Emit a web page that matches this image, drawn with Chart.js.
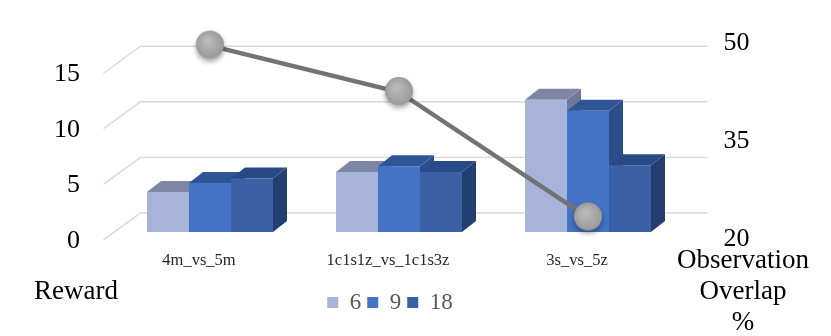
<!DOCTYPE html>
<html><head><meta charset="utf-8">
<script src="https://cdn.jsdelivr.net/npm/chart.js@4.4.0/dist/chart.umd.min.js"></script>
<style>
html,body{margin:0;padding:0;background:#fff;}
#wrap{position:relative;width:831px;height:336px;overflow:hidden;background:#fff;}
#c{position:absolute;left:0;top:0;}
.t{position:absolute;font-family:'Liberation Serif',serif;font-size:27px;line-height:31px;color:#000;text-align:center;white-space:nowrap;}
</style></head><body>
<div id="wrap"><canvas id="c" width="831" height="336"></canvas>
<div class="t" style="left:0;width:152px;top:275px">Reward</div>
<div class="t" style="left:663px;width:160px;top:244px">Observation<br>Overlap<br>%</div>
</div>
<script>
// ---- data ----
const categories = ['4m_vs_5m', '1c1s1z_vs_1c1s3z', '3s_vs_5z'];
const seriesNames = ['6', '9', '18'];
const reward6 = [3.6, 5.4, 11.9];
const reward9 = [4.4, 5.9, 10.9];
const reward18 = [4.8, 5.4, 6.0];
const overlap = [49.6, 42.5, 23.3];
const rewardTicks = [0, 5, 10, 15];
const overlapTicks = [20, 35, 50];

// ---- styles ----
const frontColors = ['#a7b4d9', '#4472c4', '#3a60a6'];
const topColors = ['#7d87a5', '#2f5597', '#294a87'];
const sideColors = ['#6f7a99', '#2c4f8c', '#233f72'];
const DEPTH_X = 14, DEPTH_Y = -11;
const WALL_X = 25, WALL_Y = -19;
const FLOOR_X = -37, FLOOR_Y = 27;
const FONT = "'Liberation Serif', serif";

function poly(ctx, pts) {
  ctx.beginPath();
  ctx.moveTo(pts[0][0], pts[0][1]);
  for (let i = 1; i < pts.length; i++) ctx.lineTo(pts[i][0], pts[i][1]);
  ctx.closePath();
  ctx.fill();
}

const threeD = {
  id: 'threeD',
  beforeDatasetsDraw(chart) {
    const {ctx, chartArea: a, scales} = chart;
    const y = scales.y;
    ctx.save();
    ctx.strokeStyle = '#d9d9d9';
    ctx.lineWidth = 1.4;
    rewardTicks.forEach(v => {
      const yb = y.getPixelForValue(v) + WALL_Y;
      const xl = a.left + WALL_X, xr = a.right + WALL_X;
      ctx.beginPath();
      ctx.moveTo(xl + FLOOR_X, yb + FLOOR_Y);
      ctx.lineTo(xl, yb);
      ctx.lineTo(xr, yb);
      ctx.stroke();
    });
    for (let i = 0; i < categories.length; i++) {
      for (let d = 0; d < 3; d++) {
        const el = chart.getDatasetMeta(d).data[i];
        if (!el) continue;
        const p = el.getProps(['x', 'y', 'base', 'width'], true);
        const l = p.x - p.width / 2, r = p.x + p.width / 2, t = p.y, b = p.base;
        ctx.fillStyle = sideColors[d];
        poly(ctx, [[r, t], [r + DEPTH_X, t + DEPTH_Y], [r + DEPTH_X, b + DEPTH_Y], [r, b]]);
        ctx.fillStyle = topColors[d];
        poly(ctx, [[l, t], [r, t], [r + DEPTH_X, t + DEPTH_Y], [l + DEPTH_X, t + DEPTH_Y]]);
      }
    }
    ctx.restore();
  }
};

function makeMarker() {
  const c = document.createElement('canvas');
  c.width = 40; c.height = 40;
  const g = c.getContext('2d');
  g.shadowColor = 'rgba(0,0,0,0.35)';
  g.shadowBlur = 5;
  g.shadowOffsetY = 3;
  const grad = g.createRadialGradient(17, 15, 2, 20, 19, 15);
  grad.addColorStop(0, '#b9b9b9');
  grad.addColorStop(1, '#989898');
  g.fillStyle = grad;
  g.beginPath();
  g.arc(20, 19, 14, 0, Math.PI * 2);
  g.fill();
  return c;
}
const marker = makeMarker();

const rewardSeries = [reward6, reward9, reward18];
const datasets = rewardSeries.map((vals, k) => ({
  type: 'bar',
  label: seriesNames[k],
  data: vals,
  yAxisID: 'y',
  backgroundColor: frontColors[k],
  borderWidth: 0,
  barPercentage: 1,
  categoryPercentage: 2 / 3,
  order: 1
}));
datasets.push({
  type: 'line',
  label: 'Observation Overlap %',
  data: overlap,
  yAxisID: 'y2',
  borderColor: '#737373',
  borderWidth: 4.5,
  backgroundColor: '#a5a5a5',
  pointStyle: marker,
  pointRadius: 14,
  clip: false,
  order: 0
});

new Chart(document.getElementById('c'), {
  type: 'bar',
  data: { labels: categories, datasets },
  plugins: [threeD],
  options: {
    responsive: false,
    animation: false,
    layout: { padding: { top: 43, left: 0, right: 51, bottom: 12 } },
    plugins: {
      tooltip: { enabled: false },
      legend: {
        position: 'bottom',
        labels: {
          filter: item => item.datasetIndex < 3,
          boxWidth: 11, boxHeight: 11, padding: 6,
          color: '#595959',
          font: { family: FONT, size: 23, lineHeight: 1 }
        }
      }
    },
    scales: {
      x: {
        grid: { display: false, drawTicks: false },
        border: { display: false },
        ticks: { color: '#262626', font: { family: FONT, size: 16.5 }, padding: 12, labelOffset: -11, maxRotation: 0 },
        afterFit(s) { s.height = 46; }
      },
      y: {
        position: 'left',
        min: -7 / 11, max: 17,
        grid: { display: false, drawTicks: false },
        border: { display: false },
        ticks: { color: '#000', font: { family: FONT, size: 26, lineHeight: 0.05 }, padding: 35.5, labelOffset: 9 },
        afterBuildTicks(s) { s.ticks = rewardTicks.map(v => ({ value: v })); },
        afterFit(s) { s.width = 115.5; }
      },
      y2: {
        position: 'right',
        min: 20, max: 50,
        grid: { display: false, drawTicks: false },
        border: { display: false },
        ticks: { color: '#000', font: { family: FONT, size: 26, lineHeight: 0.05 }, padding: 41 },
        afterBuildTicks(s) { s.ticks = overlapTicks.map(v => ({ value: v })); },
        afterFit(s) { s.width = 97.5; }
      }
    }
  }
});
</script>
</body></html>
